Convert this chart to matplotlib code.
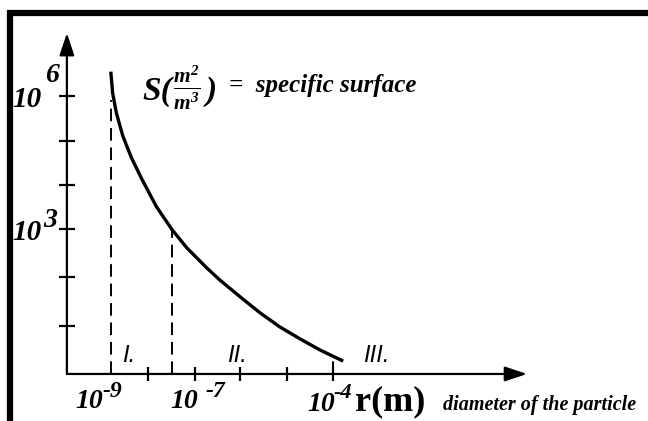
import numpy as np
import matplotlib
matplotlib.use('Agg')
import matplotlib.pyplot as plt

plt.rcParams['font.family'] = 'Liberation Serif'
plt.rcParams['mathtext.fontset'] = 'custom'
plt.rcParams['mathtext.rm'] = 'Liberation Serif:bold:italic'
plt.rcParams['mathtext.it'] = 'Liberation Serif:bold:italic'
plt.rcParams['mathtext.bf'] = 'Liberation Serif:bold:italic'

# curve, in decades (log10 r, log10 S)
log_r = [-8.81, -8.77, -8.69, -8.55, -8.36, -8.13, -7.82, -7.48, -7.16,
         -6.73, -6.45, -6.01, -5.58, -5.15, -4.71, -4.28, -3.78]
log_S = [6.55, 6.07, 5.62, 5.10, 4.60, 4.11, 3.50, 2.98, 2.57,
         2.12, 1.85, 1.47, 1.11, 0.79, 0.52, 0.27, 0.02]

# region borders (dashed) and their top ends
border_r = [-8.81, -7.48, -4.00]
border_top = [5.90, 2.98, 0.09]

x_ticks = [-8.0, -6.99, -6.01, -5.0, -4.0]
y_ticks = [6.0, 4.99, 3.99, 3.0, 1.92, 0.81]
region_names = ['I.', 'II.', 'III.']
region_x = [-8.57, -6.29, -3.35]

x0, x_end = -9.76, 0.20
y0, y_end = -0.27, 7.42

fig = plt.figure(figsize=(6.48, 4.21), dpi=100)
ax = fig.add_axes([0, 0, 1, 1])
ax.set_xlim(-11.208, 2.818)
ax.set_ylim(-1.331, 8.166)
ax.axis('off')

# frame: thick top and left bars only
ax.plot([0.011, 1.0], [0.97, 0.97], transform=ax.transAxes, color='k', lw=4.5,
        solid_capstyle='butt')
ax.plot([0.0155, 0.0155], [0.0, 0.976], transform=ax.transAxes, color='k', lw=4.5,
        solid_capstyle='butt')

# axes with arrows
arrow = dict(arrowstyle='-|>,head_length=0.9,head_width=0.3', lw=1.6, color='k',
             mutation_scale=15, shrinkA=0, shrinkB=0)
ax.annotate('', xy=(x_end, y0), xytext=(x0, y0), arrowprops=arrow)
ax.annotate('', xy=(x0, y_end), xytext=(x0, y0), arrowprops=arrow)

ax.plot(x_ticks, [y0] * len(x_ticks), ls='none', marker='|', ms=10, mew=1.6, color='k')
ax.plot([x0] * len(y_ticks), y_ticks, ls='none', marker='_', ms=11, mew=1.6, color='k')

# dashed borders
for r, top in zip(border_r, border_top):
    ax.plot([r, r], [y0, top], color='k', lw=1.4, ls=(0, (6.5, 3.5)))

# specific surface curve
ax.plot(log_r, log_S, color='k', lw=2.4, solid_joinstyle='round', solid_capstyle='butt')

bi = dict(fontstyle='italic', fontweight='bold', color='k', va='baseline', ha='left')

# y labels
ax.text(-10.95, 5.75, '10', fontsize=21, **bi)
ax.text(-10.23, 6.32, '6', fontsize=20, **bi)
ax.text(-10.95, 2.75, '10', fontsize=21, **bi)
ax.text(-10.28, 3.05, '3', fontsize=20, **bi)

# x labels
ax.text(-9.58, -1.04, '10', fontsize=20, **bi)
ax.text(-9.00, -0.79, '-9', fontsize=17, **bi)
ax.text(-7.53, -1.04, '10', fontsize=20, **bi)
ax.text(-6.77, -0.79, '-7', fontsize=17, **bi)
ax.text(-4.56, -1.10, '10', fontsize=20, **bi)
ax.text(-3.98, -0.81, '-4', fontsize=16, **bi)
ax.text(-3.52, -1.08, 'r(m)', fontsize=26, color='k', fontweight='bold',
        va='baseline', ha='left')
ax.text(-1.62, -1.08, 'diameter of the particle', fontsize=14.5, **bi)

# regions
for name, xr in zip(region_names, region_x):
    ax.text(xr, 0.0, name, fontsize=17, fontstyle='italic', color='k',
            va='baseline', ha='left', family='Liberation Sans')

# S(m2/m3) = specific surface
ax.text(-8.13, 5.91, 'S(', fontsize=24, **bi)
ax.text(-7.46, 6.20, r'$\frac{m^{2}}{m^{3}}$', fontsize=22, fontstyle='italic',
        fontweight='bold', color='k', va='center', ha='left')
ax.text(-6.76, 5.91, ')', fontsize=24, **bi)
ax.text(-6.25, 6.09, '=  specific surface', fontsize=18, **bi)

fig.savefig('out.png', dpi=100, facecolor='white')
